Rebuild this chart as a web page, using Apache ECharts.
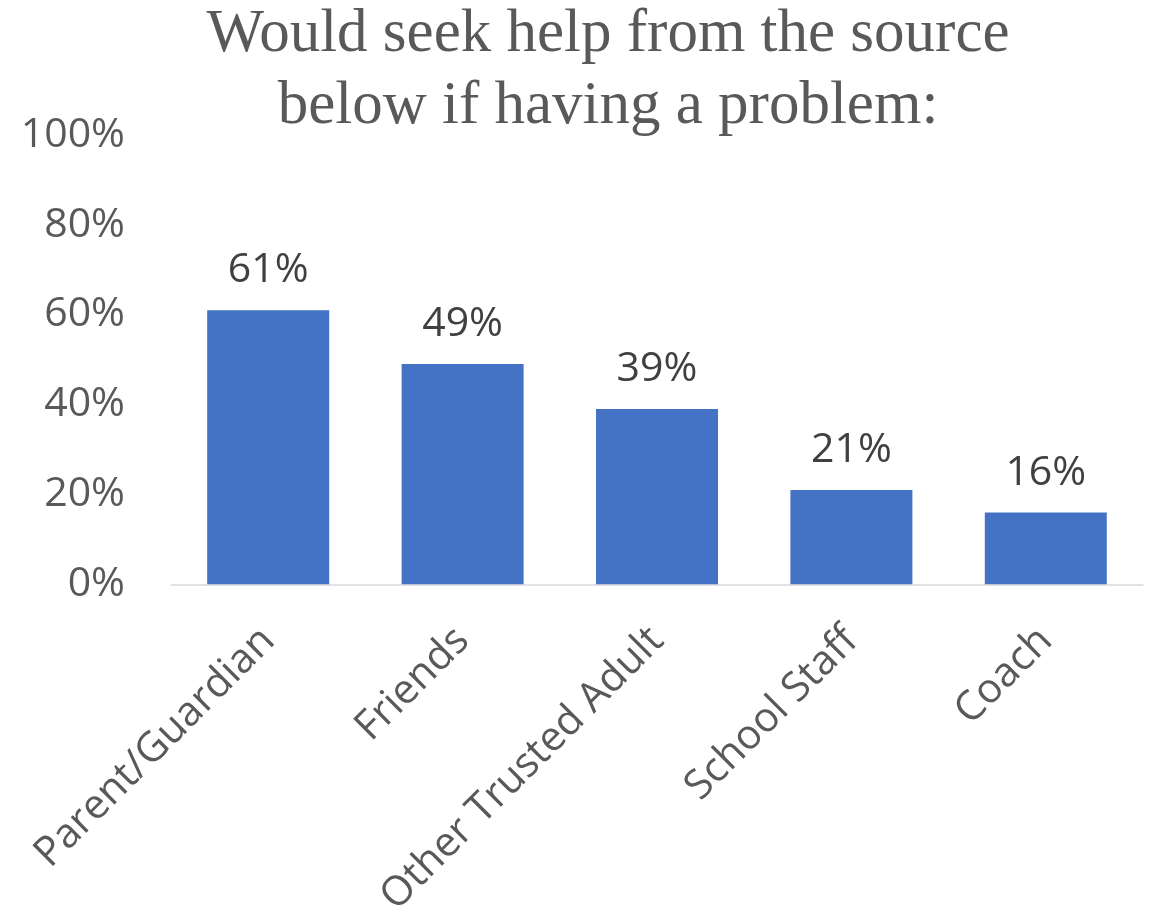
<!DOCTYPE html>
<html>
<head>
<meta charset="utf-8">
<script src="https://cdn.jsdelivr.net/npm/echarts@6/dist/echarts.min.js"></script>
<style>html,body{margin:0;padding:0;background:#fff}#c{width:1156px;height:920px}</style>
</head>
<body>
<div id="c"></div>
<script>
const categories = ['Parent/Guardian', 'Friends', 'Other Trusted Adult', 'School Staff', 'Coach'];
const values = [61, 49, 39, 21, 16];
const titleLines = ['Would seek help from the source', 'below if having a problem:'];

const chart = echarts.init(document.getElementById('c'));
chart.setOption({
  animation: false,
  title: {
    text: titleLines.join('\n'),
    left: 603, top: -6, textAlign: 'center',
    textStyle: { fontFamily: 'Liberation Serif', fontWeight: 'normal', fontSize: 61, lineHeight: 72, color: '#595959' }
  },
  grid: { left: 171, right: 13, top: 135, bottom: 335, containLabel: false },
  xAxis: {
    type: 'category', data: categories,
    axisLine: { lineStyle: { color: '#d9d9d9', width: 1.5 } },
    axisTick: { show: false },
    axisLabel: { rotate: 45, interval: 0, margin: 50, color: '#595959', fontFamily: 'Open Sans', fontSize: 41 }
  },
  yAxis: {
    type: 'value', min: 0, max: 100, interval: 20,
    splitLine: { show: false }, axisLine: { show: false }, axisTick: { show: false },
    axisLabel: { formatter: '{value}%', margin: 46, color: '#595959', fontFamily: 'Open Sans', fontSize: 41 }
  },
  series: [{
    type: 'bar', data: values, barWidth: 122,
    itemStyle: { color: '#4472c4' },
    label: { show: true, position: 'top', distance: 19, formatter: '{c}%', color: '#404040', fontFamily: 'Open Sans', fontSize: 41 }
  }]
});
</script>
</body>
</html>
